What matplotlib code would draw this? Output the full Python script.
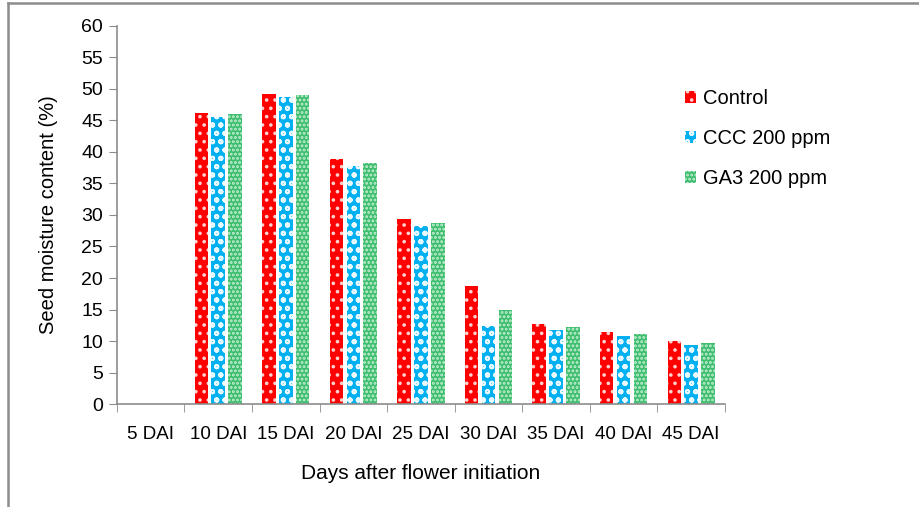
import matplotlib.pyplot as plt
import numpy as np
from matplotlib.lines import Line2D

plt.rcParams['font.family'] = ['Liberation Sans', 'DejaVu Sans']
plt.rcParams['hatch.linewidth'] = 1.4

days = ['5 DAI', '10 DAI', '15 DAI', '20 DAI', '25 DAI', '30 DAI', '35 DAI', '40 DAI', '45 DAI']
control = [0, 46.2, 49.2, 38.8, 29.4, 18.7, 12.7, 11.4, 10.0]
ccc_200 = [0, 45.5, 48.7, 37.8, 28.2, 12.4, 11.7, 10.8, 9.4]
ga3_200 = [0, 46.0, 49.0, 38.2, 28.8, 14.9, 12.2, 11.1, 9.7]

series = [
    ('Control', control, '#FF0000', '#FFD0D0', '..'),
    ('CCC 200 ppm', ccc_200, '#00B0F0', '#E8F8FF', 'oo'),
    ('GA3 200 ppm', ga3_200, '#3DBE6E', '#C8EED6', '....'),
]

fs = 14.5
tfs = 13.5
fig = plt.figure(figsize=(9.2, 5.07), dpi=100)
ax = fig.add_axes([0.127, 0.203, 0.661, 0.746])

x = np.arange(len(days))
width = 0.2
handles = []
for i, (name, vals, col, hcol, hatch) in enumerate(series):
    b = ax.bar(x + (i - 1) * 0.25, vals, width, color=col, edgecolor=hcol,
               linewidth=0, hatch=hatch, label=name)
    handles.append(b)

gray = '#8C8C8C'
ax.set_xlim(-0.5, len(days) - 0.5)
ax.set_ylim(0, 60)
ax.set_yticks(range(0, 61, 5))
ax.set_xticks(x)
ax.set_xticklabels(days)
ax.set_xticks(np.arange(-0.5, len(days)), minor=True)
ax.tick_params(axis='x', which='major', length=0, pad=16, labelsize=tfs)
ax.tick_params(axis='x', which='minor', length=6, color=gray, direction='out')
ax.tick_params(axis='y', length=6, color=gray, labelsize=tfs + 0.5, pad=4)
for s in ['top', 'right']:
    ax.spines[s].set_visible(False)
for s in ['left', 'bottom']:
    ax.spines[s].set_color(gray)
    ax.spines[s].set_linewidth(1.2)

ax.set_xlabel('Days after flower initiation', fontsize=fs + 0.5, labelpad=15)
ax.set_ylabel('Seed moisture content (%)', fontsize=fs, labelpad=16.5)

fig.legend(handles=handles, loc='upper left', bbox_to_anchor=(0.725, 0.86),
           frameon=False, fontsize=fs, handlelength=0.55, handleheight=0.55,
           handletextpad=0.35, labelspacing=1.05)

# outer frame (left and top edges)
fig.add_artist(Line2D([0.0085, 0.0085], [0.0, 0.994], color=gray, lw=1.8,
                      transform=fig.transFigure))
fig.add_artist(Line2D([0.0085, 1.0], [0.994, 0.994], color=gray, lw=1.8,
                      transform=fig.transFigure))

fig.savefig('out.png', dpi=100)
